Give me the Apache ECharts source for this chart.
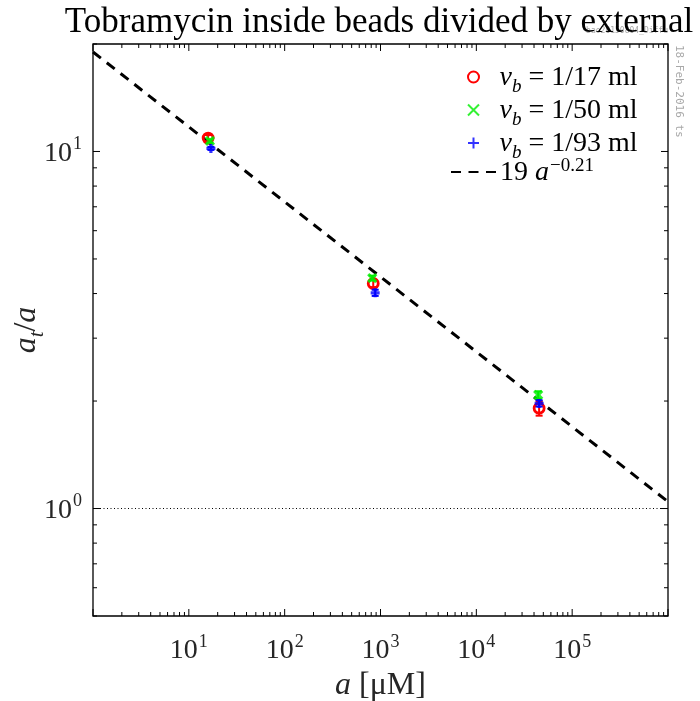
<!DOCTYPE html>
<html><head><meta charset="utf-8">
<script src="https://cdn.jsdelivr.net/npm/echarts@6/dist/echarts.min.js"></script>
<style>html,body{margin:0;padding:0;background:#fff}#c{width:700px;height:701px}</style>
</head><body><div id="c"></div>
<script>
// ---- data ----
const titleText = 'Tobramycin inside beads divided by external';
const seriesNames = ['vb17', 'vb50', 'vb93', 'fit'];
const legendVolumes = ['1/17', '1/50', '1/93'];
const fitCoef = '19';
const fitExp = '\u22120.21';

const xRed = [15.9, 840, 45200];
const yRed = [10.9, 4.27, 1.91];
const eRed = [0.22, 0.10, 0.09];

const xGreen = [16.6, 820, 44200];
const yGreen = [10.7, 4.42, 2.08];
const eGreen = [0.12, 0.07, 0.05];

const xBlue = [17.0, 880, 45200];
const yBlue = [10.2, 4.02, 1.97];
const eBlue = [0.10, 0.08, 0.04];

const fitX = [1, 1e6];
const fitY = [19, 1.045];
const refLineY = 1;

const xMin = 1, xMax = 1e6, yMin = 0.5, yMax = 20;
const xDecades = [1, 10, 100, 1000, 10000, 100000, 1000000];
const yDecades = [0.1, 1, 10];
const minorMult = [2, 3, 4, 5, 6, 7, 8, 9];
const xLabelValues = [10, 100, 1000, 10000, 100000];
const xLabelExps = ['1', '2', '3', '4', '5'];
const yLabelValues = [1, 10];
const yLabelExps = ['0', '1'];

const SERIF = 'Liberation Serif';
const MONO = 'DejaVu Sans Mono';

// ---- ticks (major/minor) ----
function tickList(decades, lo, hi) {
  const out = [];
  decades.forEach(d => {
    if (d >= lo * 0.999 && d <= hi * 1.001) out.push([d, 1]);
    minorMult.forEach(m => {
      const v = d * m;
      if (v >= lo * 0.999 && v <= hi * 1.001) out.push([v, 0]);
    });
  });
  return out;
}
const xTicks = tickList(xDecades, xMin, xMax);
const yTicks = tickList(yDecades, yMin, yMax);

function zip(xs, ys) { return xs.map((x, i) => [x, ys[i]]); }
function errData(xs, ys, es) { return xs.map((x, i) => [x, ys[i], ys[i] - es[i], ys[i] + es[i]]); }

function labelFor(v, vals, exps) {
  for (let i = 0; i < vals.length; i++) {
    if (Math.abs(v - vals[i]) / vals[i] < 1e-6) return '{b|10}{s|' + exps[i] + '}';
  }
  return '';
}

const richTick = {
  b: { fontFamily: SERIF, fontSize: 28, color: '#262626', verticalAlign: 'bottom', lineHeight: 32 },
  s: { fontFamily: SERIF, fontSize: 18, color: '#262626', verticalAlign: 'top', lineHeight: 32, padding: [0, 0, 0, 1] }
};
const richLeg = {
  i: { fontFamily: SERIF, fontStyle: 'italic', fontSize: 28, color: '#000', verticalAlign: 'bottom', lineHeight: 30 },
  sb: { fontFamily: SERIF, fontStyle: 'italic', fontSize: 19, color: '#000', verticalAlign: 'bottom', lineHeight: 30, padding: [0, 0, -4, 0] },
  n: { fontFamily: SERIF, fontSize: 28, color: '#000', verticalAlign: 'bottom', lineHeight: 30 },
  sup: { fontFamily: SERIF, fontSize: 19, color: '#000', verticalAlign: 'top', lineHeight: 30, padding: [0, 0, 0, 1] }
};
function legendText(name) {
  const i = seriesNames.indexOf(name);
  if (i < 3) return '{i|v}{sb|b}{n| = ' + legendVolumes[i] + ' ml}';
  return '{n|' + fitCoef + ' }{i|a}{sup|' + fitExp + '}';
}

function errorBar(color) {
  return function (params, api) {
    const x = api.value(0);
    const p1 = api.coord([x, api.value(2)]);
    const p2 = api.coord([x, api.value(3)]);
    const w = 3.5;
    const st = { stroke: color, lineWidth: 2 };
    return { type: 'group', children: [
      { type: 'line', shape: { x1: p1[0], y1: p1[1], x2: p2[0], y2: p2[1] }, style: st },
      { type: 'line', shape: { x1: p1[0] - w, y1: p1[1], x2: p1[0] + w, y2: p1[1] }, style: st },
      { type: 'line', shape: { x1: p2[0] - w, y1: p2[1], x2: p2[0] + w, y2: p2[1] }, style: st }
    ]};
  };
}

function xTickRender(params, api) {
  const cs = params.coordSys;
  const px = api.coord([api.value(0), 1])[0];
  const len = api.value(1) ? 7 : 4;
  const st = { stroke: '#000', lineWidth: 1 };
  const yb = cs.y + cs.height, yt = cs.y;
  return { type: 'group', children: [
    { type: 'line', shape: { x1: px, y1: yb, x2: px, y2: yb - len }, style: st },
    { type: 'line', shape: { x1: px, y1: yt, x2: px, y2: yt + len }, style: st }
  ]};
}
function yTickRender(params, api) {
  const cs = params.coordSys;
  const py = api.coord([1, api.value(0)])[1];
  const len = api.value(1) ? 7 : 4;
  const st = { stroke: '#000', lineWidth: 1 };
  const xl = cs.x, xr = cs.x + cs.width;
  return { type: 'group', children: [
    { type: 'line', shape: { x1: xl, y1: py, x2: xl + len, y2: py }, style: st },
    { type: 'line', shape: { x1: xr, y1: py, x2: xr - len, y2: py }, style: st }
  ]};
}

const RED = '#ff0000', GREEN = '#00ee00', BLUE = '#0000ff';

const legendBase = {
  orient: 'vertical', padding: 0, itemWidth: 46, itemHeight: 11, itemGap: 1,
  formatter: legendText, textStyle: { rich: richLeg, padding: [0, 0, 0, -2] }
};

const chart = echarts.init(document.getElementById('c'), null, { renderer: 'canvas' });
chart.setOption({
  animation: false,
  backgroundColor: '#fff',
  title: {
    text: titleText, left: 374, top: 0, textAlign: 'center',
    textStyle: { fontFamily: SERIF, fontSize: 35, fontWeight: 'normal', color: '#000' }
  },
  grid: { left: 93, top: 44, right: 32, bottom: 85, containLabel: false, outerBoundsMode: 'none',
    show: true, borderColor: '#000', borderWidth: 1.3, backgroundColor: 'transparent' },
  xAxis: {
    type: 'log', logBase: 10, min: xMin, max: xMax,
    axisLine: { show: false }, axisTick: { show: false }, splitLine: { show: false },
    axisLabel: {
      margin: 17, formatter: v => labelFor(v, xLabelValues, xLabelExps), rich: richTick
    },
    name: '{i|a}{n| [\u03bcM]}', nameLocation: 'middle', nameGap: 51,
    nameTextStyle: { rich: {
      i: { fontFamily: SERIF, fontStyle: 'italic', fontSize: 32, color: '#262626' },
      n: { fontFamily: SERIF, fontSize: 32, color: '#262626' }
    } }
  },
  yAxis: {
    type: 'log', logBase: 10, min: yMin, max: yMax,
    axisLine: { show: false }, axisTick: { show: false }, splitLine: { show: false },
    axisLabel: {
      margin: 11, formatter: v => labelFor(v, yLabelValues, yLabelExps), rich: richTick
    },
    name: '{i|a}{sb|t}{n|/}{i|a}', nameLocation: 'middle', nameGap: 50, nameRotate: 90, nameMoveOverlap: false,
    nameTextStyle: { rich: {
      i: { fontFamily: SERIF, fontStyle: 'italic', fontSize: 32, color: '#262626', verticalAlign: 'bottom', lineHeight: 34 },
      sb: { fontFamily: SERIF, fontStyle: 'italic', fontSize: 21, color: '#262626', verticalAlign: 'bottom', lineHeight: 34, padding: [0, 0, -5, 0] },
      n: { fontFamily: SERIF, fontSize: 32, color: '#262626', verticalAlign: 'bottom', lineHeight: 34 }
    } }
  },
  legend: [
    Object.assign({}, legendBase, { data: seriesNames.slice(0, 3), left: 467, top: 64 }),
    Object.assign({}, legendBase, { data: [{ name: seriesNames[3], itemStyle: { opacity: 0 } }], left: 450, top: 157 })
  ],
  graphic: [
    { type: 'text', x: 668, y: 31, style: { text: 'bao20150804_Diffu', fontFamily: MONO, fontSize: 8, fill: '#a8a8a8', textAlign: 'right', textVerticalAlign: 'middle' } },
    { type: 'text', x: 679, y: 45, rotation: -Math.PI / 2, style: { text: '18-Feb-2016 ts', fontFamily: MONO, fontSize: 11, fill: '#a8a8a8', textAlign: 'left', textVerticalAlign: 'middle' } }
  ],
  series: [
    { name: 'xticks', type: 'custom', renderItem: xTickRender, data: xTicks, silent: true, z: 1 },
    { name: 'yticks', type: 'custom', renderItem: yTickRender, data: yTicks, silent: true, z: 1 },
    {
      name: 'fit', type: 'line', data: zip(fitX, fitY), symbol: 'none', showSymbol: false, z: 2,
      lineStyle: { color: '#000', width: 3, type: [10, 7.5] }, itemStyle: { color: '#000' },
      markLine: {
        silent: true, symbol: 'none', label: { show: false },
        lineStyle: { color: '#000', width: 1, type: [1, 2.5] },
        data: [{ yAxis: refLineY }]
      }
    },
    { name: 'errRed', type: 'custom', renderItem: errorBar(RED), data: errData(xRed, yRed, eRed), z: 3 },
    { name: seriesNames[0], type: 'scatter', data: zip(xRed, yRed), symbol: 'circle', symbolSize: 10, z: 4,
      itemStyle: { color: 'rgba(0,0,0,0)', borderColor: RED, borderWidth: 2.8, opacity: 1 } },
    { name: 'errGreen', type: 'custom', renderItem: errorBar(GREEN), data: errData(xGreen, yGreen, eGreen), z: 5 },
    { name: seriesNames[1], type: 'scatter', data: zip(xGreen, yGreen), symbol: 'path://M0,0L10,10M10,0L0,10', symbolSize: 8, z: 6,
      itemStyle: { color: 'rgba(0,0,0,0)', borderColor: GREEN, borderWidth: 3.2 } },
    { name: 'errBlue', type: 'custom', renderItem: errorBar(BLUE), data: errData(xBlue, yBlue, eBlue), z: 7 },
    { name: seriesNames[2], type: 'scatter', data: zip(xBlue, yBlue), symbol: 'path://M5,0L5,10M0,5L10,5', symbolSize: 9, z: 8,
      itemStyle: { color: 'rgba(0,0,0,0)', borderColor: BLUE, borderWidth: 3.2 } }
  ]
});
</script></body></html>
